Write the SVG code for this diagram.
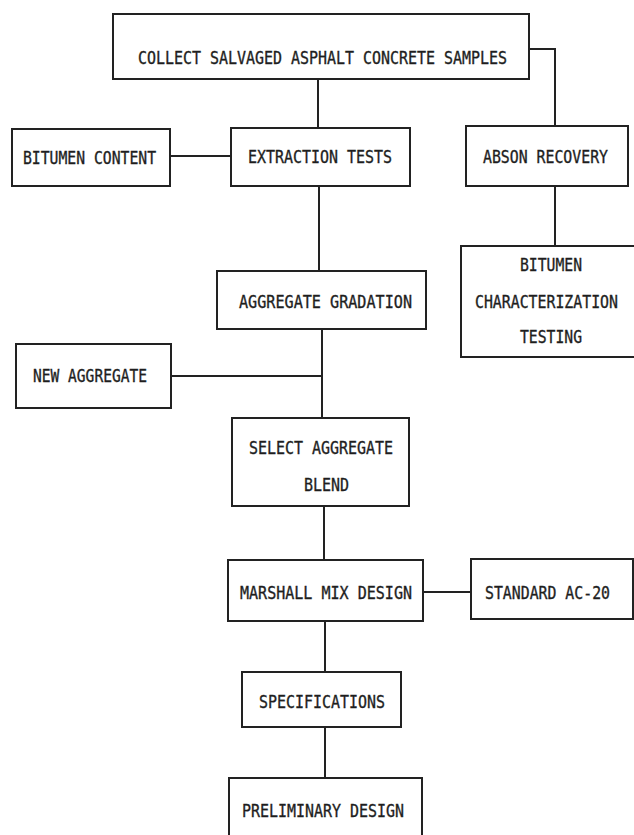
<svg xmlns="http://www.w3.org/2000/svg" width="634" height="835" viewBox="0 0 634 835">
<style>
.box{fill:#fff;stroke:#222;stroke-width:2}
.ln{fill:none;stroke:#222;stroke-width:2}
text{font-family:"DejaVu Sans Mono","Liberation Mono",monospace;font-size:17.5px;fill:#1e1e1e;stroke:#1e1e1e;stroke-width:0.35}
</style>
<rect width="634" height="835" fill="#fff"/>
<g id="connectors">
<path class="ln" d="M318 79V128"/>
<path class="ln" d="M529 49H555V126"/>
<path class="ln" d="M170 156H231"/>
<path class="ln" d="M555 186V246"/>
<path class="ln" d="M319 186V271"/>
<path class="ln" d="M322 329V418"/>
<path class="ln" d="M171 376H322"/>
<path class="ln" d="M324 506V560"/>
<path class="ln" d="M423 592H471"/>
<path class="ln" d="M325 621V672"/>
<path class="ln" d="M325 727V778"/>
</g>
<g id="collect">
<rect class="box" x="113" y="14" width="416" height="65"/>
<text x="138" y="64" textLength="369" lengthAdjust="spacingAndGlyphs">COLLECT SALVAGED ASPHALT CONCRETE SAMPLES</text>
</g>
<g id="bitumen-content">
<rect class="box" x="12" y="129" width="158" height="57"/>
<text x="23" y="164" textLength="133" lengthAdjust="spacingAndGlyphs">BITUMEN CONTENT</text>
</g>
<g id="extraction">
<rect class="box" x="231" y="128" width="179" height="58"/>
<text x="248" y="163" textLength="144" lengthAdjust="spacingAndGlyphs">EXTRACTION TESTS</text>
</g>
<g id="abson">
<rect class="box" x="466" y="126" width="162" height="60"/>
<text x="483" y="163" textLength="125" lengthAdjust="spacingAndGlyphs">ABSON RECOVERY</text>
</g>
<g id="characterization">
<path class="ln" d="M634 246H461V357H634"/>
<text x="520" y="271" textLength="62" lengthAdjust="spacingAndGlyphs">BITUMEN</text>
<text x="475" y="308" textLength="143" lengthAdjust="spacingAndGlyphs">CHARACTERIZATION</text>
<text x="520" y="343" textLength="62" lengthAdjust="spacingAndGlyphs">TESTING</text>
</g>
<g id="gradation">
<rect class="box" x="217" y="271" width="209" height="58"/>
<text x="239" y="308" textLength="173" lengthAdjust="spacingAndGlyphs">AGGREGATE GRADATION</text>
</g>
<g id="new-aggregate">
<rect class="box" x="16" y="344" width="155" height="64"/>
<text x="33" y="382" textLength="114" lengthAdjust="spacingAndGlyphs">NEW AGGREGATE</text>
</g>
<g id="select-blend">
<rect class="box" x="232" y="418" width="177" height="88"/>
<text x="249" y="454" textLength="144" lengthAdjust="spacingAndGlyphs">SELECT AGGREGATE</text>
<text x="304" y="491" textLength="45" lengthAdjust="spacingAndGlyphs">BLEND</text>
</g>
<g id="marshall">
<rect class="box" x="228" y="560" width="195" height="61"/>
<text x="240" y="599" textLength="172" lengthAdjust="spacingAndGlyphs">MARSHALL MIX DESIGN</text>
</g>
<g id="standard">
<rect class="box" x="471" y="559" width="162" height="60"/>
<text x="485" y="599" textLength="125" lengthAdjust="spacingAndGlyphs">STANDARD AC-20</text>
</g>
<g id="specifications">
<rect class="box" x="242" y="672" width="159" height="55"/>
<text x="259" y="708" textLength="126" lengthAdjust="spacingAndGlyphs">SPECIFICATIONS</text>
</g>
<g id="preliminary">
<path class="ln" d="M229 835V778H422V835"/>
<text x="242" y="817" textLength="162" lengthAdjust="spacingAndGlyphs">PRELIMINARY DESIGN</text>
</g>
</svg>
